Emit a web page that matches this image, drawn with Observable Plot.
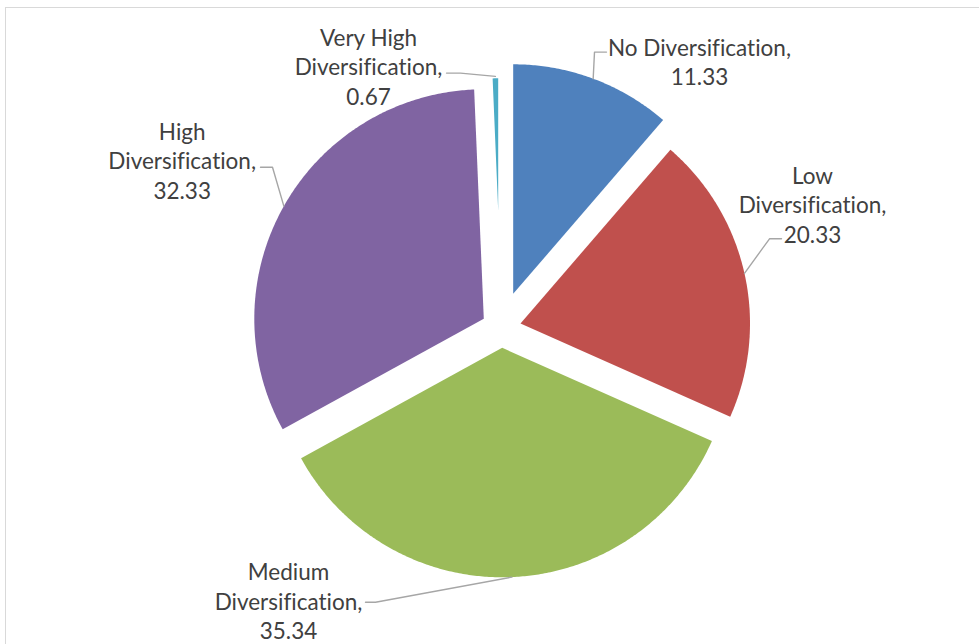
<!DOCTYPE html>
<html><head><meta charset="utf-8">
<script src="https://cdn.jsdelivr.net/npm/d3@7"></script>
<script src="https://cdn.jsdelivr.net/npm/@observablehq/plot@0.6"></script>
<style>
html,body{margin:0;padding:0;background:#fff;}
#wrap{position:relative;width:979px;height:644px;overflow:hidden;background:#fff;}
#frame{position:absolute;left:5px;top:7px;width:1000px;height:700px;border-left:1px solid #d9d9d9;border-top:1px solid #d9d9d9;pointer-events:none;}
svg text{font-variant-ligatures:none;font-feature-settings:"liga" 0;}
</style></head><body><div id="wrap"><div id="chart"></div><div id="frame"></div></div>
<script>
// ---- data ----
const categories = ["No Diversification", "Low Diversification", "Medium Diversification", "High Diversification", "Very High Diversification"];
const values = [11.33, 20.33, 35.34, 32.33, 0.67];
const labelLines = [
  ["No Diversification,", "11.33"],
  ["Low", "Diversification,", "20.33"],
  ["Medium", "Diversification,", "35.34"],
  ["High", "Diversification,", "32.33"],
  ["Very High", "Diversification,", "0.67"]
];
const colors = ["#4F81BD", "#C0504D", "#9BBB59", "#8064A2", "#4BACC6"];

// ---- layout (pixels) ----
const W = 979, H = 644;
const center = [500.5, 315];
const radius = 229.5;
const explodeOffset = [[12.2, -21.7], [19.5, 8], [1.2, 32.3], [-17.2, 3.3], [-0.8, -9.7]];
const sliceStroke = [0, 0, 0, 0, 4];
const labelPos = [[699, 60.5], [812, 203.5], [288, 600], [181.7, 159.5], [368, 65.5]];
const leaderElbow = [
  [[606, 51.6], [594, 51.6]],
  [[781, 238.3], [769, 238.3]],
  [[365, 601.7], [375, 601.7]],
  [[260, 166.7], [272, 166.7]],
  [[446, 72.6], [460, 72.6]]
];

const arcs = d3.pie().sort(null).value(d => d)(values);

const slicePts = [];
const leaderPts = [];
arcs.forEach((a, i) => {
  const ax = center[0] + explodeOffset[i][0];
  const ay = center[1] + explodeOffset[i][1];
  const cat = categories[i];
  slicePts.push({cat, i, x: ax, y: ay});
  const n = Math.max(4, Math.ceil((a.endAngle - a.startAngle) / (Math.PI / 360)));
  for (let k = 0; k <= n; k++) {
    const t = a.startAngle + (a.endAngle - a.startAngle) * k / n;
    slicePts.push({cat, i, x: ax + radius * Math.sin(t), y: ay - radius * Math.cos(t)});
  }
  slicePts.push({cat, i, x: ax, y: ay});
  const mid = (a.startAngle + a.endAngle) / 2;
  leaderElbow[i].forEach(p => leaderPts.push({cat, x: p[0], y: p[1]}));
  leaderPts.push({cat, x: ax + radius * Math.sin(mid), y: ay - radius * Math.cos(mid)});
});

const labels = categories.map((c, i) => ({cat: c, x: labelPos[i][0], y: labelPos[i][1], text: labelLines[i].join("\n")}));

const marks = [];
categories.forEach((c, i) => {
  marks.push(Plot.line(slicePts.filter(d => d.i === i), {
    x: "x", y: "y", fill: colors[i], stroke: sliceStroke[i] ? "white" : "none", strokeWidth: sliceStroke[i], curve: "linear"
  }));
});
marks.push(Plot.line(leaderPts, {x: "x", y: "y", z: "cat", stroke: "#a6a6a6", strokeWidth: 1.4}));
marks.push(Plot.text(labels, {x: "x", y: "y", text: "text", fontSize: 22.5, lineHeight: 1.31, fill: "#404040", fontFamily: "Lato", textAnchor: "middle"}));

const chart = Plot.plot({
  width: W, height: H, margin: 0,
  x: {domain: [0, W], range: [0, W], axis: null},
  y: {domain: [0, H], range: [0, H], axis: null},
  style: {background: "white", overflow: "visible"},
  marks
});
document.getElementById("chart").appendChild(chart);
</script>
</body></html>
